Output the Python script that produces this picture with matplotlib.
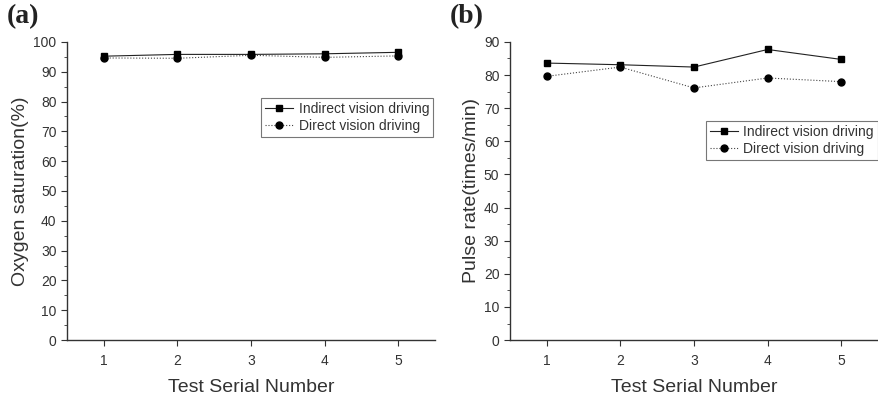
import matplotlib.pyplot as plt
from matplotlib.ticker import MultipleLocator

# test serial numbers
tests = [1, 2, 3, 4, 5]

# (a) oxygen saturation (%)
oxy_indirect = [95.2, 95.8, 95.8, 96.0, 96.5]
oxy_direct = [94.6, 94.5, 95.5, 94.8, 95.3]

# (b) pulse rate (times/min)
pulse_indirect = [83.6, 83.1, 82.4, 87.7, 84.7]
pulse_direct = [79.6, 82.4, 76.1, 79.1, 78.0]

labels = ["Indirect vision driving", "Direct vision driving"]

txt = "#333333"
plt.rcParams["font.family"] = ["Liberation Sans", "DejaVu Sans"]

fig = plt.figure(figsize=(8.79, 3.95), dpi=100)
ax1 = fig.add_axes([0.0762, 0.139, 0.419, 0.755])
ax2 = fig.add_axes([0.580, 0.139, 0.419, 0.755])


def panel(ax, indirect, direct, ymax, ylabel, anchor, tag):
    ax.plot(tests, indirect, color="#222222", lw=0.8, ls="-",
            marker="s", ms=5, mfc="black", mec="black", label=labels[0])
    ax.plot(tests, direct, color="#444444", lw=0.8, ls=":",
            marker="o", ms=5, mfc="black", mec="black", label=labels[1])
    ax.set_xlim(0.5, 5.5)
    ax.set_ylim(0, ymax)
    ax.set_xticks(tests)
    ax.yaxis.set_major_locator(MultipleLocator(10))
    ax.yaxis.set_minor_locator(MultipleLocator(5))
    for side in ("top", "right"):
        ax.spines[side].set_visible(False)
    for side in ("left", "bottom"):
        ax.spines[side].set_color("#333333")
        ax.spines[side].set_linewidth(1.0)
    ax.tick_params(which="major", length=4, width=0.8, colors="#333333",
                   labelsize=10, labelcolor=txt)
    ax.tick_params(which="minor", length=2, width=0.6, colors="#333333")
    ax.tick_params(axis="x", pad=6)
    ax.set_xlabel("Test Serial Number", fontsize=14, color=txt, labelpad=8)
    ax.set_ylabel(ylabel, fontsize=14, color=txt, labelpad=3)
    leg = ax.legend(loc="upper right", bbox_to_anchor=anchor, borderaxespad=0,
                    fontsize=10, frameon=True, fancybox=False, handlelength=2.0,
                    handletextpad=0.4, borderpad=0.3, labelspacing=0.2)
    leg.get_frame().set_edgecolor("#555555")
    leg.get_frame().set_linewidth(0.8)
    for t in leg.get_texts():
        t.set_color(txt)
    pos = ax.get_position()
    fig.text(pos.x0 - 0.068, 0.99, tag, ha="left", va="top", fontsize=20,
             fontweight="bold", family="Liberation Serif", color="#222222")


panel(ax1, oxy_indirect, oxy_direct, 100, "Oxygen saturation(%)", (0.995, 0.812), "(a)")
panel(ax2, pulse_indirect, pulse_direct, 90, "Pulse rate(times/min)", (1.0, 0.735), "(b)")

fig.savefig("out.png", dpi=100)
